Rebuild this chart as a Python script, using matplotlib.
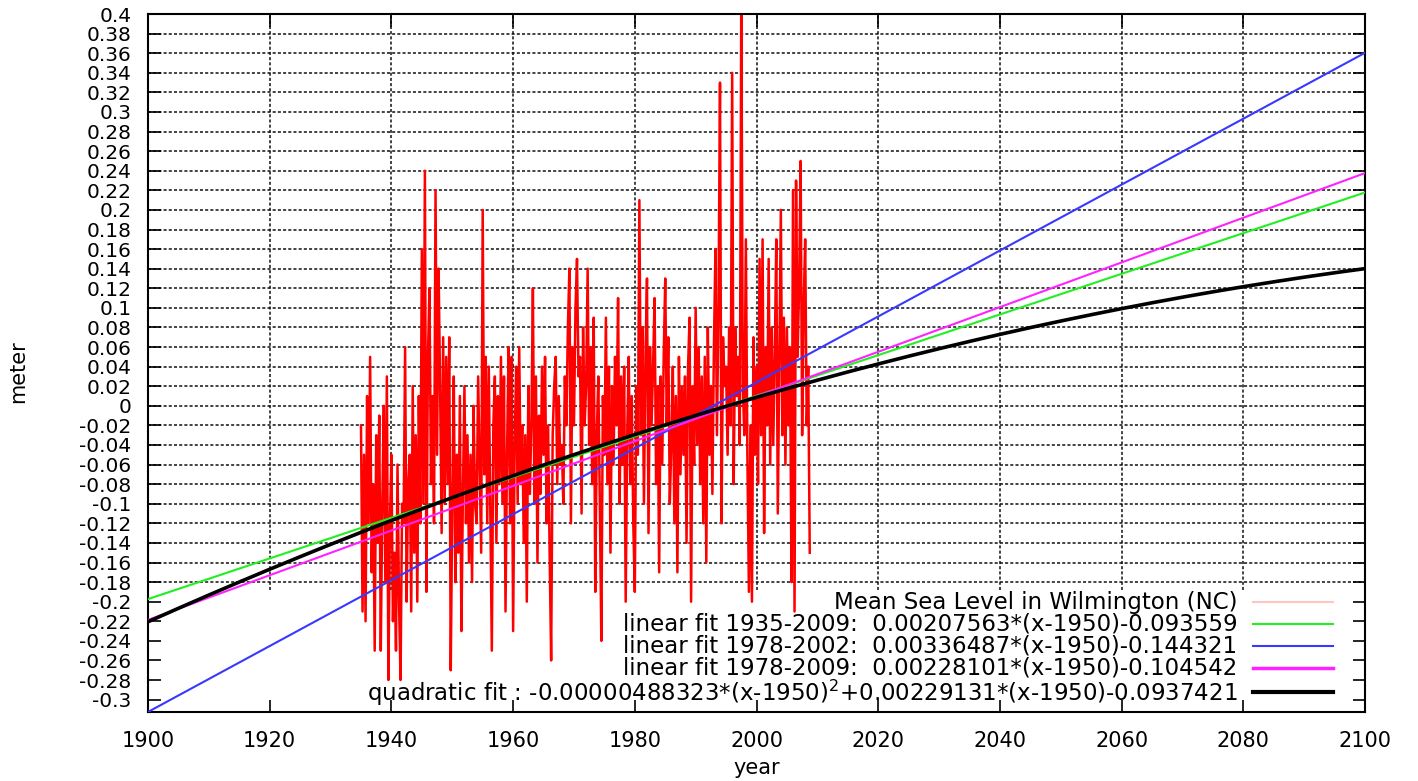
import numpy as np
import matplotlib
matplotlib.use("Agg")
import matplotlib.pyplot as plt

plt.rcParams['font.family'] = ['DejaVu Sans']

# quarterly mean sea level in Wilmington (NC), meter, starting 1935
start_year = 1935
sea_level = [
    -0.02, -0.21, -0.05, -0.22,   # 1935
    0.01, -0.12, 0.05, -0.17,     # 1936
    -0.08, -0.25, -0.03, -0.14,   # 1937
    -0.01, -0.25, -0.10, 0.00,    # 1938
    -0.18, 0.03, -0.28, -0.12,    # 1939
    -0.05, -0.22, -0.15, -0.25,   # 1940
    -0.06, -0.20, -0.28, -0.10,   # 1941
    -0.12, 0.06, -0.20, -0.08,    # 1942
    -0.05, -0.21, 0.02, -0.15,    # 1943
    -0.03, -0.20, 0.01, -0.12,    # 1944
    0.16, -0.10, 0.24, -0.19,     # 1945
    0.05, 0.12, -0.08, 0.01,      # 1946
    -0.12, 0.22, -0.05, 0.14,     # 1947
    0.02, -0.13, 0.07, -0.10,     # 1948
    0.05, -0.08, 0.07, -0.27,     # 1949
    -0.10, 0.03, -0.18, -0.05,    # 1950
    -0.15, 0.01, -0.23, -0.09,    # 1951
    0.02, -0.12, -0.03, -0.16,    # 1952
    -0.05, -0.18, 0.00, -0.10,    # 1953
    -0.12, 0.03, -0.06, -0.15,    # 1954
    0.20, -0.07, 0.05, -0.12,     # 1955
    0.04, -0.10, -0.25, -0.02,    # 1956
    0.03, -0.14, 0.01, -0.08,     # 1957
    0.05, -0.10, 0.03, -0.21,     # 1958
    -0.05, 0.06, -0.12, 0.05,     # 1959
    -0.23, -0.04, 0.04, -0.10,    # 1960
    0.06, -0.08, -0.02, -0.14,    # 1961
    -0.03, -0.20, 0.02, -0.09,    # 1962
    -0.02, 0.12, -0.10, 0.03,     # 1963
    -0.16, -0.01, -0.09, 0.04,    # 1964
    -0.05, 0.05, -0.12, -0.02,    # 1965
    -0.15, -0.26, -0.03, 0.02,    # 1966
    0.05, -0.08, 0.01, -0.06,     # 1967
    -0.04, -0.10, 0.03, -0.02,    # 1968
    0.08, 0.14, -0.12, 0.06,      # 1969
    -0.02, 0.10, 0.15, 0.03,      # 1970
    0.05, -0.11, 0.08, -0.02,     # 1971
    0.02, 0.14, -0.04, 0.06,      # 1972
    -0.08, 0.09, -0.19, -0.03,    # 1973
    0.03, -0.10, -0.24, 0.01,     # 1974
    -0.05, 0.09, -0.08, 0.04,     # 1975
    -0.15, 0.02, -0.06, 0.05,     # 1976
    -0.02, 0.11, -0.10, 0.03,     # 1977
    -0.06, 0.04, -0.20, -0.03,    # 1978
    0.05, -0.08, 0.01, -0.12,     # 1979
    -0.19, 0.02, -0.05, 0.21,     # 1980
    -0.03, 0.08, -0.10, 0.05,     # 1981
    0.13, -0.13, 0.06, -0.02,     # 1982
    0.04, 0.11, -0.08, 0.02,      # 1983
    -0.17, 0.03, -0.06, 0.05,     # 1984
    0.13, -0.02, 0.07, -0.10,     # 1985
    -0.04, 0.04, -0.12, 0.01,     # 1986
    -0.17, 0.05, -0.07, 0.02,     # 1987
    -0.05, 0.03, -0.14, 0.04,     # 1988
    0.09, -0.20, 0.02, -0.06,     # 1989
    0.10, -0.04, 0.06, -0.08,     # 1990
    0.03, -0.12, 0.05, -0.16,     # 1991
    0.08, -0.05, 0.02, -0.09,     # 1992
    0.06, 0.16, -0.03, 0.10,      # 1993
    0.33, -0.12, 0.07, 0.02,      # 1994
    0.04, -0.05, 0.08, -0.02,     # 1995
    0.34, -0.08, 0.08, 0.01,      # 1996
    0.05, -0.04, 0.42, 0.02,      # 1997
    -0.03, 0.17, -0.05, -0.19,    # 1998
    -0.02, -0.20, 0.07, -0.05,    # 1999
    0.04, -0.08, 0.15, -0.03,     # 2000
    0.17, -0.13, 0.06, -0.02,     # 2001
    0.15, -0.06, 0.08, -0.04,     # 2002
    0.05, 0.17, -0.11, 0.04,      # 2003
    0.20, -0.03, 0.09, -0.06,     # 2004
    0.08, -0.02, 0.06, -0.18,     # 2005
    0.22, -0.21, 0.23, 0.05,      # 2006
    0.12, 0.25, -0.03, 0.10,      # 2007
    0.17, -0.02, 0.04, -0.15,     # 2008
]

# fit coefficients: slope, offset (about 1950)
lin_1935_2009 = (0.00207563, -0.093559)
lin_1978_2002 = (0.00336487, -0.144321)
lin_1978_2009 = (0.00228101, -0.104542)
quad_fit = (-0.00000488323, 0.00229131, -0.0937421)

labels = [
    'Mean Sea Level in Wilmington (NC)',
    'linear fit 1935-2009:  0.00207563*(x-1950)-0.093559',
    'linear fit 1978-2002:  0.00336487*(x-1950)-0.144321',
    'linear fit 1978-2009:  0.00228101*(x-1950)-0.104542',
    'quadratic fit : -0.00000488323*(x-1950)$^2$+0.00229131*(x-1950)-0.0937421',
]

years = start_year + np.arange(len(sea_level)) / 4.0
xx = np.linspace(1900, 2100, 400)
t = xx - 1950

fig = plt.figure(figsize=(14.18, 7.81), dpi=100)
ax = fig.add_axes([0.1044, 0.0884, 0.8582, 0.8936])

# grid (stops above the key area)
xticks = np.arange(1900, 2101, 20)
yticks = np.round(np.arange(-0.3, 0.401, 0.02), 2)
for xv in xticks[1:-1]:
    ax.plot([xv, xv], [-0.188, 0.4], color='#111111', lw=1.1, ls=(0, (2, 1.4)), zorder=1)
for yv in yticks:
    if -0.185 < yv < 0.399:
        ax.axhline(yv, color='#111111', lw=1.1, ls=(0, (2, 1.4)), zorder=1)

ax.plot(years, sea_level, color='#ff0000', lw=1.8, zorder=2)
ax.plot(xx, lin_1935_2009[0] * t + lin_1935_2009[1], color='#22ee22', lw=1.5, zorder=3)
ax.plot(xx, lin_1978_2002[0] * t + lin_1978_2002[1], color='#3838ff', lw=1.5, zorder=3)
ax.plot(xx, lin_1978_2009[0] * t + lin_1978_2009[1], color='#ff22ff', lw=1.5, zorder=3)
ax.plot(xx, quad_fit[0] * t**2 + quad_fit[1] * t + quad_fit[2], color='black', lw=2.6, zorder=4)

ax.set_xlim(1900, 2100)
ax.set_ylim(-0.3126, 0.4)
ax.set_xticks(xticks)
ax.set_xticklabels([str(v) for v in xticks], fontsize=15)
ax.set_yticks(yticks)
ax.set_yticklabels(['%g' % v for v in yticks], fontsize=14.5)
ax.tick_params(direction='in', length=9, width=1.2, top=True, right=True)
ax.tick_params(axis='x', pad=14)
ax.tick_params(axis='y', pad=12)
for s in ax.spines.values():
    s.set_linewidth(1.5)

# key, right aligned like gnuplot
key_colors = ['#ffc4c4', '#22ee22', '#3838ff', '#ff22ff', 'black']
key_widths = [1.5, 1.5, 1.5, 2.5, 3.0]
key_y = [0.157, 0.1255, 0.094, 0.0625, 0.028]
for lab, col, lw, ky in zip(labels, key_colors, key_widths, key_y):
    ax.text(0.895, ky, lab, transform=ax.transAxes, ha='right', va='center', fontsize=16.5, zorder=5)
    ax.plot([0.908, 0.974], [ky, ky], transform=ax.transAxes, color=col, lw=lw, zorder=5)

fig.text(757 / 1418, 1 - 768 / 781, 'year', ha='center', va='center', fontsize=15)
fig.text(18 / 1418, 1 - 372 / 781, 'meter', ha='center', va='center', rotation=90, fontsize=15)

fig.savefig('out.png', dpi=100)
